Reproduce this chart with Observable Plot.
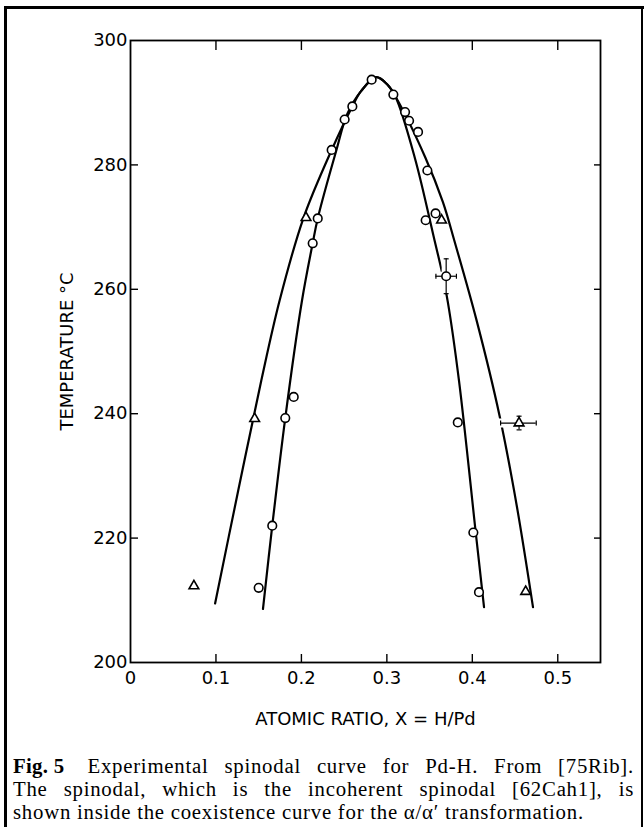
<!DOCTYPE html>
<html>
<head>
<meta charset="utf-8">
<script src="https://cdn.jsdelivr.net/npm/d3@7"></script>
<script src="https://cdn.jsdelivr.net/npm/@observablehq/plot@0.6"></script>
<style>
html, body { margin: 0; padding: 0; background: #fff; }
#page { position: relative; width: 644px; height: 827px; overflow: hidden; background: #fff; }
.bl { position: absolute; background: #000; }
#chart { position: absolute; left: 0; top: 0; }
#caption { position: absolute; left: 13px; top: 754px; width: 621px;
  font-family: "Liberation Serif", "Times New Roman", serif; font-size: 20.8px; line-height: 23.2px;
  letter-spacing: 0.75px; color: #000; }
#caption .j { text-align: justify; text-align-last: justify; }
#caption .fig { display: inline-block; font-weight: bold; letter-spacing: 0.3px; margin-right: 7px; }
</style>
</head>
<body>
<div id="page">
  <div class="bl" style="left:4px;top:6px;width:3px;height:821px;"></div>
  <div class="bl" style="left:4px;top:6px;width:640px;height:3px;"></div>
  <div class="bl" style="left:641px;top:6px;width:2px;height:821px;"></div>
  <div id="chart"></div>
  <div id="caption">
    <div class="j"><span class="fig">Fig. 5</span> Experimental spinodal curve for Pd-H. From [75Rib].</div>
    <div class="j">The spinodal, which is the incoherent spinodal [62Cah1], is</div>
    <div>shown inside the coexistence curve for the α/α′ transformation.</div>
  </div>
</div>
<script>
// Axis ticks
const xTicks = [0, 0.1, 0.2, 0.3, 0.4, 0.5];
const xTickLabels = ["0", "0.1", "0.2", "0.3", "0.4", "0.5"];
const yTicks = [200, 220, 240, 260, 280, 300];

// Coexistence (outer) curve
const outerX = [0.099, 0.126, 0.153, 0.1745, 0.2025, 0.2354, 0.2596, 0.27, 0.2875, 0.30, 0.31, 0.345, 0.3656, 0.379, 0.405, 0.432, 0.452, 0.471];
const outerT = [209.5, 227.6, 245.3, 258.2, 271.5, 282.4, 289.4, 291.9, 294.1, 293.0, 291.0, 281.2, 274.0, 267.8, 255.0, 239.6, 225.2, 208.9];

// Spinodal (inner) curve
const innerX = [0.155, 0.1659, 0.1811, 0.2007, 0.2132, 0.2191, 0.241, 0.2537, 0.27, 0.2875, 0.30, 0.31, 0.333, 0.3559, 0.3636, 0.3714, 0.3844, 0.404, 0.4137];
const innerT = [208.6, 222.0, 239.3, 258.2, 267.4, 271.4, 282.4, 288.2, 291.9, 294.1, 293.0, 291.0, 281.0, 267.8, 263.3, 257.9, 245.3, 220.9, 208.9];

// Circle data points
const circleX = [0.150, 0.1659, 0.1811, 0.191, 0.2132, 0.2191, 0.2354, 0.2506, 0.2596, 0.2822, 0.3076, 0.3213, 0.326, 0.3365, 0.3474, 0.3454, 0.357, 0.3694, 0.383, 0.4012, 0.4078];
const circleT = [212.0, 222.0, 239.3, 242.7, 267.4, 271.4, 282.4, 287.3, 289.4, 293.7, 291.3, 288.5, 287.1, 285.3, 279.1, 271.1, 272.2, 262.1, 238.6, 220.9, 211.3];

// Triangle data points
const triX = [0.0742, 0.1453, 0.2054, 0.364, 0.4547, 0.4624];
const triT = [212.3, 239.2, 271.5, 271.1, 238.5, 211.4];

// Error bars
const errX = [0.3694, 0.4547];
const errT = [262.1, 238.5];
const errXLo = [0.3574, 0.4331];
const errXHi = [0.3814, 0.4748];
const errTLo = [259.3, 237.4];
const errTHi = [264.9, 239.6];

const outer = outerX.map((x, i) => ({x, T: outerT[i]}));
const inner = innerX.map((x, i) => ({x, T: innerT[i]}));
const circles = circleX.map((x, i) => ({x, T: circleT[i]}));
const tris = triX.map((x, i) => ({x, T: triT[i]}));
const errs = errX.map((x, i) => ({x, T: errT[i], x1: errXLo[i], x2: errXHi[i], t1: errTLo[i], t2: errTHi[i]}));
const capsH = errs.flatMap(e => [{x: e.x1, T: e.T}, {x: e.x2, T: e.T}]);
const capsV = errs.flatMap(e => [{x: e.x, T: e.t1}, {x: e.x, T: e.t2}]);

const capVert = {draw(ctx, size) { const l = Math.sqrt(size / Math.PI); ctx.moveTo(0, -l); ctx.lineTo(0, l); }};
const capHorz = {draw(ctx, size) { const l = Math.sqrt(size / Math.PI); ctx.moveTo(-l, 0); ctx.lineTo(l, 0); }};

const fmtX = d => xTickLabels[xTicks.indexOf(d)];

const chart = Plot.plot({
  width: 644,
  height: 737,
  marginLeft: 130,
  marginRight: 44,
  marginTop: 40,
  marginBottom: 75,
  x: {domain: [0, 0.55]},
  y: {domain: [200, 300]},
  style: {fontFamily: "'DejaVu Sans', sans-serif", fontSize: "18px", background: "transparent", color: "#000", overflow: "visible"},
  marks: [
    Plot.frame({stroke: "#000", strokeWidth: 1.8}),
    Plot.axisX(xTicks, {anchor: "bottom", tickSize: 0, tickPadding: 9, tickFormat: fmtX,
      label: "ATOMIC RATIO, X = H/Pd", labelAnchor: "center", labelArrow: "none", labelOffset: 62}),
    Plot.axisX(xTicks.slice(1), {anchor: "bottom", tickSize: -8, strokeWidth: 1.4, tickFormat: () => null, label: null}),
    Plot.axisX(xTicks.slice(1), {anchor: "top", tickSize: -9, strokeWidth: 1.4, tickFormat: () => null, label: null}),
    Plot.axisY(yTicks, {anchor: "left", tickSize: 0, tickPadding: 3,
      label: "TEMPERATURE °C", labelAnchor: "center", labelArrow: "none", labelOffset: 70}),
    Plot.axisY(yTicks.slice(1, -1), {anchor: "left", tickSize: -8, strokeWidth: 1.4, tickFormat: () => null, label: null}),
    Plot.axisY(yTicks.slice(1, -1), {anchor: "right", tickSize: -7, strokeWidth: 1.4, tickFormat: () => null, label: null}),
    Plot.line(outer, {x: "x", y: "T", curve: "catmull-rom", stroke: "#000", strokeWidth: 2.2}),
    Plot.line(inner, {x: "x", y: "T", curve: "catmull-rom", stroke: "#000", strokeWidth: 2.2}),
    // white gaps where the curves pass behind the error bars
    Plot.ruleX(errs, {x: "x", y1: "t1", y2: "t2", stroke: "#fff", strokeWidth: 9}),
    Plot.ruleY(errs, {y: "T", x1: "x1", x2: "x2", stroke: "#fff", strokeWidth: 9, strokeLinecap: "square"}),
    Plot.ruleX(errs, {x: "x", y1: "t1", y2: "t2", stroke: "#000", strokeWidth: 1.2}),
    Plot.ruleY(errs, {y: "T", x1: "x1", x2: "x2", stroke: "#000", strokeWidth: 1.2}),
    Plot.dot(capsH, {x: "x", y: "T", symbol: capVert, r: 2.5, stroke: "#000", fill: "none", strokeWidth: 1.2}),
    Plot.dot(capsV, {x: "x", y: "T", symbol: capHorz, r: 2.5, stroke: "#000", fill: "none", strokeWidth: 1.2}),
    Plot.dot(circles, {x: "x", y: "T", r: 4.3, stroke: "#000", fill: "#fff", strokeWidth: 1.6}),
    Plot.dot(tris, {x: "x", y: "T", symbol: "triangle", r: 3.6, stroke: "#000", fill: "#fff", strokeWidth: 1.6})
  ]
});
document.getElementById("chart").appendChild(chart);
</script>
</body>
</html>
